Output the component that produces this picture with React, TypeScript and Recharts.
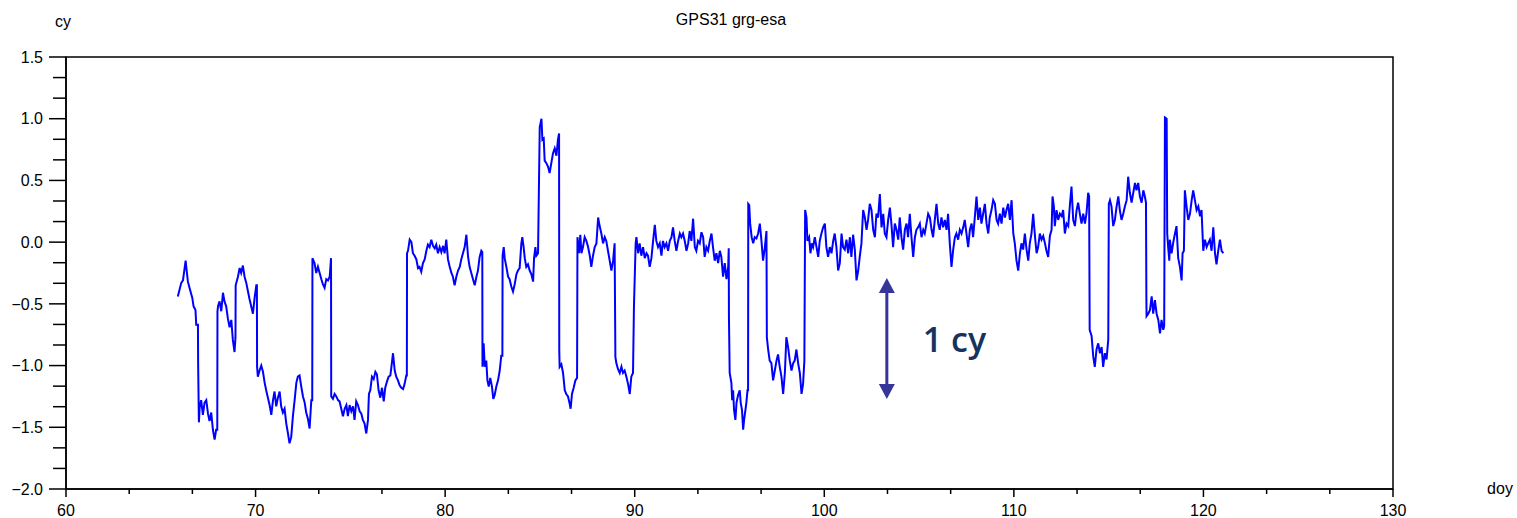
import { LineChart, Line, XAxis, YAxis, ReferenceArea, ReferenceLine } from "recharts";

// doy / cy pairs, grouped by stretch of days
const SEG_66_78: [number, number][] = [
  [65.9, -0.44], [66.08, -0.33], [66.17, -0.31], [66.31, -0.15], [66.38, -0.25], [66.43, -0.32], [66.55, -0.39],
  [66.66, -0.45], [66.73, -0.52], [66.83, -0.55], [66.87, -0.67], [66.96, -0.67], [66.97, -0.98], [67.01, -1.46],
  [67.05, -1.34], [67.13, -1.28], [67.22, -1.4], [67.31, -1.3], [67.4, -1.28], [67.49, -1.39], [67.57, -1.45],
  [67.66, -1.38], [67.75, -1.52], [67.84, -1.6], [67.92, -1.52], [67.98, -1.52], [67.99, -0.56], [68.02, -0.52],
  [68.1, -0.48], [68.19, -0.56], [68.28, -0.41], [68.36, -0.48], [68.45, -0.52], [68.54, -0.62], [68.63, -0.69],
  [68.72, -0.63], [68.8, -0.79], [68.89, -0.89], [68.94, -0.77], [68.95, -0.35], [69.07, -0.28], [69.16, -0.21],
  [69.24, -0.25], [69.33, -0.19], [69.42, -0.28], [69.51, -0.33], [69.6, -0.4], [69.68, -0.46], [69.77, -0.52],
  [69.86, -0.58], [69.95, -0.45], [70.04, -0.35], [70.07, -0.35], [70.08, -1.01], [70.12, -1.09], [70.21, -1.04],
  [70.3, -1.0], [70.39, -1.05], [70.48, -1.14], [70.56, -1.2], [70.65, -1.26], [70.74, -1.32], [70.83, -1.4],
  [70.92, -1.28], [71.0, -1.21], [71.09, -1.33], [71.18, -1.26], [71.27, -1.21], [71.35, -1.33], [71.44, -1.38],
  [71.53, -1.35], [71.62, -1.47], [71.71, -1.55], [71.79, -1.63], [71.88, -1.58], [71.97, -1.41], [72.06, -1.28],
  [72.15, -1.14], [72.23, -1.09], [72.32, -1.08], [72.41, -1.17], [72.5, -1.25], [72.59, -1.3], [72.67, -1.38],
  [72.76, -1.43], [72.85, -1.51], [72.94, -1.28], [72.99, -1.28], [73.0, -0.13], [73.11, -0.17], [73.2, -0.25],
  [73.29, -0.2], [73.38, -0.25], [73.47, -0.3], [73.55, -0.34], [73.64, -0.37], [73.73, -0.3], [73.82, -0.31],
  [73.91, -0.28], [73.98, -0.13], [73.99, -1.25], [74.08, -1.27], [74.17, -1.23], [74.26, -1.25], [74.35, -1.28],
  [74.43, -1.29], [74.52, -1.35], [74.61, -1.41], [74.7, -1.35], [74.79, -1.32], [74.87, -1.41], [74.96, -1.32],
  [75.05, -1.37], [75.14, -1.33], [75.22, -1.44], [75.31, -1.29], [75.4, -1.32], [75.49, -1.37], [75.58, -1.39],
  [75.66, -1.44], [75.75, -1.47], [75.84, -1.55], [75.93, -1.44], [75.98, -1.23], [76.05, -1.2], [76.14, -1.09],
  [76.23, -1.11], [76.32, -1.05], [76.4, -1.07], [76.49, -1.2], [76.58, -1.26], [76.67, -1.18], [76.76, -1.29],
  [76.84, -1.18], [76.93, -1.13], [77.02, -1.09], [77.11, -1.08], [77.19, -0.98], [77.25, -0.9], [77.34, -1.04],
  [77.42, -1.09], [77.51, -1.12], [77.6, -1.16], [77.69, -1.18], [77.78, -1.19], [77.86, -1.15], [77.95, -1.08],
  [77.98, -1.08], [77.99, -0.09],
];

const SEG_78_90: [number, number][] = [
  [78.04, -0.07], [78.13, 0.02], [78.22, 0.0], [78.3, -0.09], [78.39, -0.11], [78.48, -0.14], [78.57, -0.21],
  [78.65, -0.2], [78.74, -0.24], [78.83, -0.17], [78.92, -0.14], [79.01, -0.07], [79.09, -0.02], [79.18, -0.04],
  [79.27, 0.02], [79.36, -0.03], [79.45, -0.05], [79.53, -0.02], [79.62, -0.09], [79.71, -0.04], [79.8, -0.08],
  [79.89, -0.03], [79.97, -0.09], [80.06, 0.02], [80.15, -0.14], [80.24, -0.2], [80.33, -0.25], [80.41, -0.28],
  [80.5, -0.35], [80.59, -0.28], [80.68, -0.23], [80.77, -0.2], [80.85, -0.14], [80.94, -0.09], [81.03, -0.04],
  [81.12, 0.06], [81.21, -0.12], [81.29, -0.2], [81.38, -0.25], [81.47, -0.3], [81.56, -0.35], [81.65, -0.28],
  [81.73, -0.23], [81.82, -0.12], [81.91, -0.07], [81.96, -0.08], [81.97, -1.01], [82.03, -0.82], [82.09, -1.01],
  [82.17, -0.96], [82.23, -1.12], [82.3, -1.17], [82.38, -1.1], [82.47, -1.17], [82.54, -1.27], [82.61, -1.24],
  [82.7, -1.17], [82.79, -1.12], [82.88, -1.04], [82.96, -0.92], [83.02, -0.92], [83.03, -0.11], [83.09, -0.04],
  [83.14, -0.13], [83.23, -0.2], [83.32, -0.28], [83.4, -0.3], [83.49, -0.36], [83.58, -0.4], [83.67, -0.34],
  [83.76, -0.26], [83.84, -0.23], [83.93, -0.21], [84.02, -0.01], [84.07, 0.04], [84.14, -0.04], [84.2, -0.13],
  [84.28, -0.2], [84.37, -0.18], [84.46, -0.23], [84.55, -0.26], [84.64, -0.32], [84.69, -0.13], [84.76, -0.04],
  [84.81, -0.11], [84.9, -0.09], [84.95, 0.48], [84.99, 0.93], [85.08, 1.0], [85.13, 0.83], [85.2, 0.84],
  [85.25, 0.66], [85.34, 0.64], [85.43, 0.61], [85.51, 0.56], [85.6, 0.64], [85.69, 0.72], [85.78, 0.76],
  [85.87, 0.7], [85.95, 0.83], [86.01, 0.88], [86.02, -0.87], [86.04, -1.01], [86.13, -0.99], [86.22, -1.06],
  [86.31, -1.2], [86.39, -1.23], [86.48, -1.25], [86.57, -1.31], [86.62, -1.35], [86.69, -1.23], [86.78, -1.18],
  [86.87, -1.12], [86.96, -1.1], [86.98, 0.04], [87.06, -0.09], [87.13, 0.06], [87.19, -0.09], [87.27, -0.04],
  [87.36, 0.04], [87.45, 0.01], [87.54, -0.04], [87.63, -0.11], [87.71, -0.2], [87.8, -0.11], [87.89, -0.04],
  [87.98, -0.01], [88.07, 0.2], [88.15, 0.13], [88.24, 0.07], [88.33, -0.01], [88.42, 0.04], [88.5, 0.01],
  [88.59, -0.07], [88.68, -0.15], [88.77, -0.23], [88.86, -0.15], [88.94, -0.01], [88.98, -0.93], [89.03, -0.98],
  [89.12, -1.03], [89.21, -1.06], [89.3, -1.01], [89.38, -1.06], [89.47, -1.04], [89.56, -1.09], [89.65, -1.15],
  [89.74, -1.23], [89.82, -1.09], [89.91, -1.06], [89.96, -0.52], [90.05, -0.01],
];

const SEG_90_101: [number, number][] = [
  [90.09, 0.04], [90.18, -0.09], [90.26, -0.01], [90.35, -0.11], [90.44, -0.04], [90.53, -0.13], [90.62, -0.09],
  [90.7, -0.11], [90.79, -0.2], [90.88, -0.13], [90.97, 0.01], [91.06, 0.14], [91.14, 0.01], [91.23, -0.04],
  [91.32, -0.01], [91.41, -0.11], [91.49, 0.01], [91.58, -0.04], [91.67, -0.01], [91.76, -0.07], [91.85, 0.01],
  [91.94, 0.04], [92.02, 0.12], [92.11, 0.01], [92.2, -0.07], [92.29, 0.01], [92.38, 0.07], [92.46, 0.04],
  [92.55, 0.07], [92.64, 0.01], [92.73, -0.07], [92.82, -0.01], [92.9, 0.09], [92.99, 0.01], [93.08, 0.19],
  [93.17, -0.04], [93.25, -0.07], [93.34, 0.01], [93.43, -0.01], [93.52, 0.08], [93.61, 0.04], [93.69, -0.12],
  [93.78, -0.04], [93.87, -0.07], [93.96, 0.01], [94.05, 0.07], [94.13, -0.04], [94.22, -0.15], [94.31, -0.09],
  [94.4, -0.17], [94.49, -0.07], [94.57, -0.12], [94.66, -0.28], [94.75, -0.17], [94.84, -0.3], [94.93, -0.2],
  [94.96, -0.05], [94.97, -0.6], [95.01, -1.06], [95.1, -1.14], [95.14, -1.28], [95.19, -1.2], [95.24, -1.36],
  [95.31, -1.44], [95.37, -1.3], [95.45, -1.24], [95.54, -1.2], [95.59, -1.3], [95.66, -1.36], [95.72, -1.52],
  [95.77, -1.44], [95.84, -1.36], [95.89, -1.3], [95.95, -1.2], [95.98, -1.2], [95.99, 0.31], [96.04, 0.3],
  [96.09, 0.15], [96.17, 0.04], [96.25, -0.01], [96.33, 0.04], [96.42, 0.03], [96.51, 0.07], [96.6, 0.15],
  [96.68, 0.02], [96.77, -0.15], [96.86, -0.05], [96.95, 0.09], [96.97, -0.77], [97.04, -0.87], [97.12, -0.96],
  [97.21, -0.98], [97.3, -1.12], [97.39, -1.04], [97.48, -0.96], [97.56, -0.91], [97.65, -1.01], [97.74, -1.09],
  [97.83, -1.23], [97.92, -1.06], [98.0, -0.77], [98.09, -0.85], [98.18, -0.96], [98.27, -1.04], [98.36, -0.98],
  [98.44, -0.96], [98.53, -0.87], [98.62, -0.98], [98.71, -1.06], [98.8, -1.23], [98.88, -1.15], [98.95, -0.96],
  [98.99, 0.26], [99.06, 0.2], [99.11, 0.01], [99.2, 0.04], [99.27, -0.09], [99.34, -0.01], [99.41, -0.04],
  [99.5, 0.04], [99.59, -0.04], [99.68, -0.12], [99.76, 0.01], [99.85, 0.07], [99.94, 0.12], [100.03, 0.15],
  [100.11, -0.04], [100.2, -0.12], [100.29, -0.04], [100.38, -0.09], [100.47, 0.01], [100.55, 0.07],
  [100.64, -0.04], [100.73, -0.23], [100.82, -0.17], [100.91, 0.07], [100.99, -0.04],
];

const SEG_101_111: [number, number][] = [
  [101.08, -0.06], [101.17, 0.02], [101.26, -0.09], [101.35, 0.04], [101.43, -0.12], [101.52, 0.06],
  [101.61, -0.06], [101.7, -0.31], [101.79, -0.23], [101.87, -0.12], [101.96, -0.01], [102.05, 0.26],
  [102.14, 0.2], [102.23, 0.1], [102.31, 0.18], [102.4, 0.31], [102.49, 0.26], [102.58, 0.1], [102.67, 0.04],
  [102.75, 0.23], [102.84, 0.2], [102.93, 0.39], [103.02, 0.12], [103.11, 0.23], [103.19, 0.07], [103.28, 0.04],
  [103.37, 0.18], [103.46, 0.28], [103.54, 0.15], [103.63, -0.04], [103.72, 0.15], [103.81, 0.1], [103.9, 0.02],
  [103.98, 0.2], [104.07, 0.04], [104.16, -0.06], [104.25, 0.1], [104.34, 0.15], [104.42, 0.04], [104.51, 0.23],
  [104.6, 0.04], [104.69, -0.12], [104.78, 0.04], [104.86, 0.1], [104.95, 0.12], [105.04, 0.15], [105.13, 0.04],
  [105.22, 0.1], [105.3, 0.07], [105.39, 0.15], [105.48, 0.23], [105.57, 0.2], [105.66, 0.1], [105.74, 0.04],
  [105.83, 0.18], [105.92, 0.31], [106.01, 0.15], [106.09, 0.1], [106.18, 0.2], [106.27, 0.12], [106.36, 0.18],
  [106.45, 0.1], [106.53, 0.23], [106.62, -0.01], [106.71, -0.2], [106.8, -0.06], [106.89, 0.04], [106.97, 0.07],
  [107.06, 0.02], [107.15, 0.1], [107.24, 0.07], [107.33, 0.12], [107.41, 0.18], [107.5, 0.07], [107.59, -0.04],
  [107.68, 0.1], [107.77, 0.15], [107.85, 0.04], [107.94, 0.2], [108.03, 0.37], [108.12, 0.18], [108.21, 0.28],
  [108.29, 0.15], [108.38, 0.23], [108.47, 0.31], [108.56, 0.15], [108.65, 0.07], [108.73, 0.2], [108.82, 0.26],
  [108.91, 0.34], [109.0, 0.31], [109.09, 0.18], [109.17, 0.15], [109.26, 0.23], [109.35, 0.15], [109.44, 0.28],
  [109.53, 0.2], [109.61, 0.26], [109.7, 0.31], [109.79, 0.18], [109.88, 0.34], [109.97, 0.07], [110.05, -0.01],
  [110.14, -0.15], [110.23, -0.23], [110.32, -0.09], [110.4, -0.01], [110.49, -0.06], [110.58, 0.07],
  [110.67, -0.06], [110.76, -0.15], [110.84, -0.01], [110.93, 0.07], [111.02, 0.23],
];

const SEG_111_121: [number, number][] = [
  [111.07, 0.13], [111.13, 0.02], [111.2, -0.09], [111.28, -0.04], [111.37, 0.07], [111.46, 0.02], [111.55, 0.05],
  [111.64, -0.01], [111.72, -0.07], [111.81, -0.12], [111.9, 0.05], [111.99, 0.1], [112.04, 0.37], [112.11, 0.29],
  [112.16, 0.13], [112.25, 0.26], [112.34, 0.18], [112.43, 0.23], [112.52, 0.21], [112.6, 0.26], [112.69, 0.07],
  [112.78, 0.15], [112.87, 0.13], [112.95, 0.29], [113.04, 0.45], [113.13, 0.18], [113.22, 0.13], [113.31, 0.26],
  [113.39, 0.32], [113.48, 0.23], [113.57, 0.15], [113.66, 0.23], [113.75, 0.15], [113.83, 0.23], [113.92, 0.4],
  [113.97, 0.37], [114.0, -0.71], [114.1, -0.76], [114.19, -0.93], [114.27, -1.01], [114.36, -0.87],
  [114.45, -0.82], [114.54, -0.9], [114.63, -0.85], [114.71, -1.01], [114.8, -0.9], [114.89, -0.95],
  [114.98, -0.79], [115.01, 0.31], [115.07, 0.34], [115.15, 0.29], [115.24, 0.13], [115.33, 0.18], [115.42, 0.29],
  [115.51, 0.37], [115.59, 0.26], [115.68, 0.18], [115.77, 0.23], [115.86, 0.29], [115.95, 0.34], [116.03, 0.53],
  [116.12, 0.4], [116.21, 0.32], [116.3, 0.4], [116.39, 0.48], [116.47, 0.42], [116.56, 0.48], [116.65, 0.37],
  [116.74, 0.32], [116.83, 0.42], [116.91, 0.37], [116.97, 0.32], [116.99, -0.44], [117.0, -0.6], [117.09, -0.58],
  [117.18, -0.55], [117.27, -0.44], [117.35, -0.58], [117.44, -0.47], [117.53, -0.58], [117.62, -0.63],
  [117.71, -0.74], [117.79, -0.63], [117.88, -0.71], [117.93, -0.68], [117.97, 1.01], [118.06, 1.0],
  [118.09, 0.07], [118.14, -0.04], [118.2, -0.15], [118.23, 0.02], [118.32, -0.09], [118.41, 0.0], [118.5, 0.07],
  [118.58, 0.13], [118.67, -0.13], [118.76, -0.2], [118.85, -0.31], [118.9, -0.09], [118.97, -0.07],
  [119.02, 0.42], [119.11, 0.29], [119.2, 0.18], [119.29, 0.23], [119.38, 0.34], [119.46, 0.42], [119.55, 0.34],
  [119.64, 0.26], [119.73, 0.29], [119.82, 0.21], [119.9, 0.26], [119.99, -0.07], [120.08, 0.02], [120.17, -0.04],
  [120.25, -0.01], [120.34, 0.02], [120.43, -0.07], [120.52, 0.12], [120.61, -0.09], [120.69, -0.18],
  [120.78, -0.07], [120.87, 0.02], [120.96, -0.07], [121.05, -0.09],
];

const X_MAJOR = [60, 70, 80, 90, 100, 110, 120, 130];
const Y_MAJOR = [-2, -1.5, -1, -0.5, 0, 0.5, 1, 1.5];
const Y_LABELS = ["\u22122.0", "\u22121.5", "\u22121.0", "\u22120.5", "0.0", "0.5", "1.0", "1.5"];

// two minor ticks between each pair of majors
const X_TICKS = X_MAJOR.flatMap((v, i) => (i < X_MAJOR.length - 1 ? [v, v + 10 / 3, v + 20 / 3] : [v]));
const Y_TICKS = Y_MAJOR.flatMap((v, i) => (i < Y_MAJOR.length - 1 ? [v, v + 1 / 6, v + 2 / 6] : [v]));

const data = [...SEG_66_78, ...SEG_78_90, ...SEG_90_101, ...SEG_101_111, ...SEG_111_121].map(([doy, cy]) => ({ doy, cy }));

const FONT = "'Liberation Sans', Arial, sans-serif";
const W = 1517;
const H = 518;

const isMajor = (list: number[], v: number) => list.some((m) => Math.abs(m - v) < 1e-6);

function XTick(props: any) {
  const { x, y, payload } = props;
  const major = isMajor(X_MAJOR, payload.value);
  return (
    <g>
      <line x1={x} y1={y} x2={x} y2={y + (major ? 8 : 5)} stroke="#000" strokeWidth={1.5} />
      {major && (
        <text x={x} y={y + 27} textAnchor="middle" fontSize={16} fontFamily={FONT} fill="#000">
          {payload.value}
        </text>
      )}
    </g>
  );
}

function YTick(props: any) {
  const { x, y, payload } = props;
  const idx = Y_MAJOR.findIndex((m) => Math.abs(m - payload.value) < 1e-6);
  const major = idx >= 0;
  return (
    <g>
      <line x1={x - (major ? 17 : 13)} y1={y} x2={x} y2={y} stroke="#000" strokeWidth={1.5} />
      {major && (
        <text x={x - 23} y={y} dy="0.36em" textAnchor="end" fontSize={16} fontFamily={FONT} fill="#000">
          {Y_LABELS[idx]}
        </text>
      )}
    </g>
  );
}

function Arrow(props: any) {
  const { x1, y1, y2 } = props;
  const top = Math.min(y1, y2);
  const bot = Math.max(y1, y2);
  const c = "#35359a";
  return (
    <g>
      <line x1={x1} y1={top + 12} x2={x1} y2={bot - 12} stroke={c} strokeWidth={3} />
      <polygon points={`${x1},${top} ${x1 - 8},${top + 15} ${x1 + 8},${top + 15}`} fill={c} />
      <polygon points={`${x1},${bot} ${x1 - 8},${bot - 15} ${x1 + 8},${bot - 15}`} fill={c} />
      <text
        x={x1 + 36}
        y={(top + bot) / 2 + 14}
        fontSize={34}
        fontWeight={600}
        fontFamily="'Open Sans', Lato, sans-serif"
        fill="#15335f"
      >
        1 cy
      </text>
    </g>
  );
}

export default function App() {
  return (
    <div style={{ position: "absolute", left: 0, top: 0, width: W, height: H, background: "#fff" }}>
      <LineChart width={W} height={H} data={data} margin={{ top: 57, right: 124, bottom: 0, left: 0 }}>
        <XAxis
          type="number"
          dataKey="doy"
          domain={[60, 130]}
          ticks={X_TICKS}
          interval={0}
          tick={<XTick />}
          tickLine={false}
          tickSize={0}
          tickMargin={0}
          height={29}
          stroke="#000"
          strokeWidth={1.5}
          allowDataOverflow
        />
        <YAxis
          type="number"
          domain={[-2, 1.5]}
          ticks={Y_TICKS}
          interval={0}
          tick={<YTick />}
          tickLine={false}
          tickSize={0}
          tickMargin={0}
          width={66}
          stroke="#000"
          strokeWidth={1.5}
          allowDataOverflow
        />
        <ReferenceArea x1={60} x2={130} y1={-2} y2={1.5} fill="none" fillOpacity={0} stroke="#000" strokeWidth={1.5} />
        <Line
          type="linear"
          dataKey="cy"
          stroke="#0000ff"
          strokeWidth={2}
          dot={false}
          isAnimationActive={false}
        />
        <ReferenceLine
          segment={[{ x: 103.3, y: -0.29 }, { x: 103.3, y: -1.27 }]}
          shape={<Arrow />}
        />
      </LineChart>
      <svg width={W} height={H} style={{ position: "absolute", left: 0, top: 0, pointerEvents: "none" }}>
        <text x={731} y={25} textAnchor="middle" fontSize={16} fontFamily={FONT} fill="#000">
          GPS31 grg-esa
        </text>
        <text x={63} y={27} textAnchor="middle" fontSize={16} fontFamily={FONT} fill="#000">
          cy
        </text>
        <text x={1500} y={494} textAnchor="middle" fontSize={16} fontFamily={FONT} fill="#000">
          doy
        </text>
      </svg>
    </div>
  );
}
